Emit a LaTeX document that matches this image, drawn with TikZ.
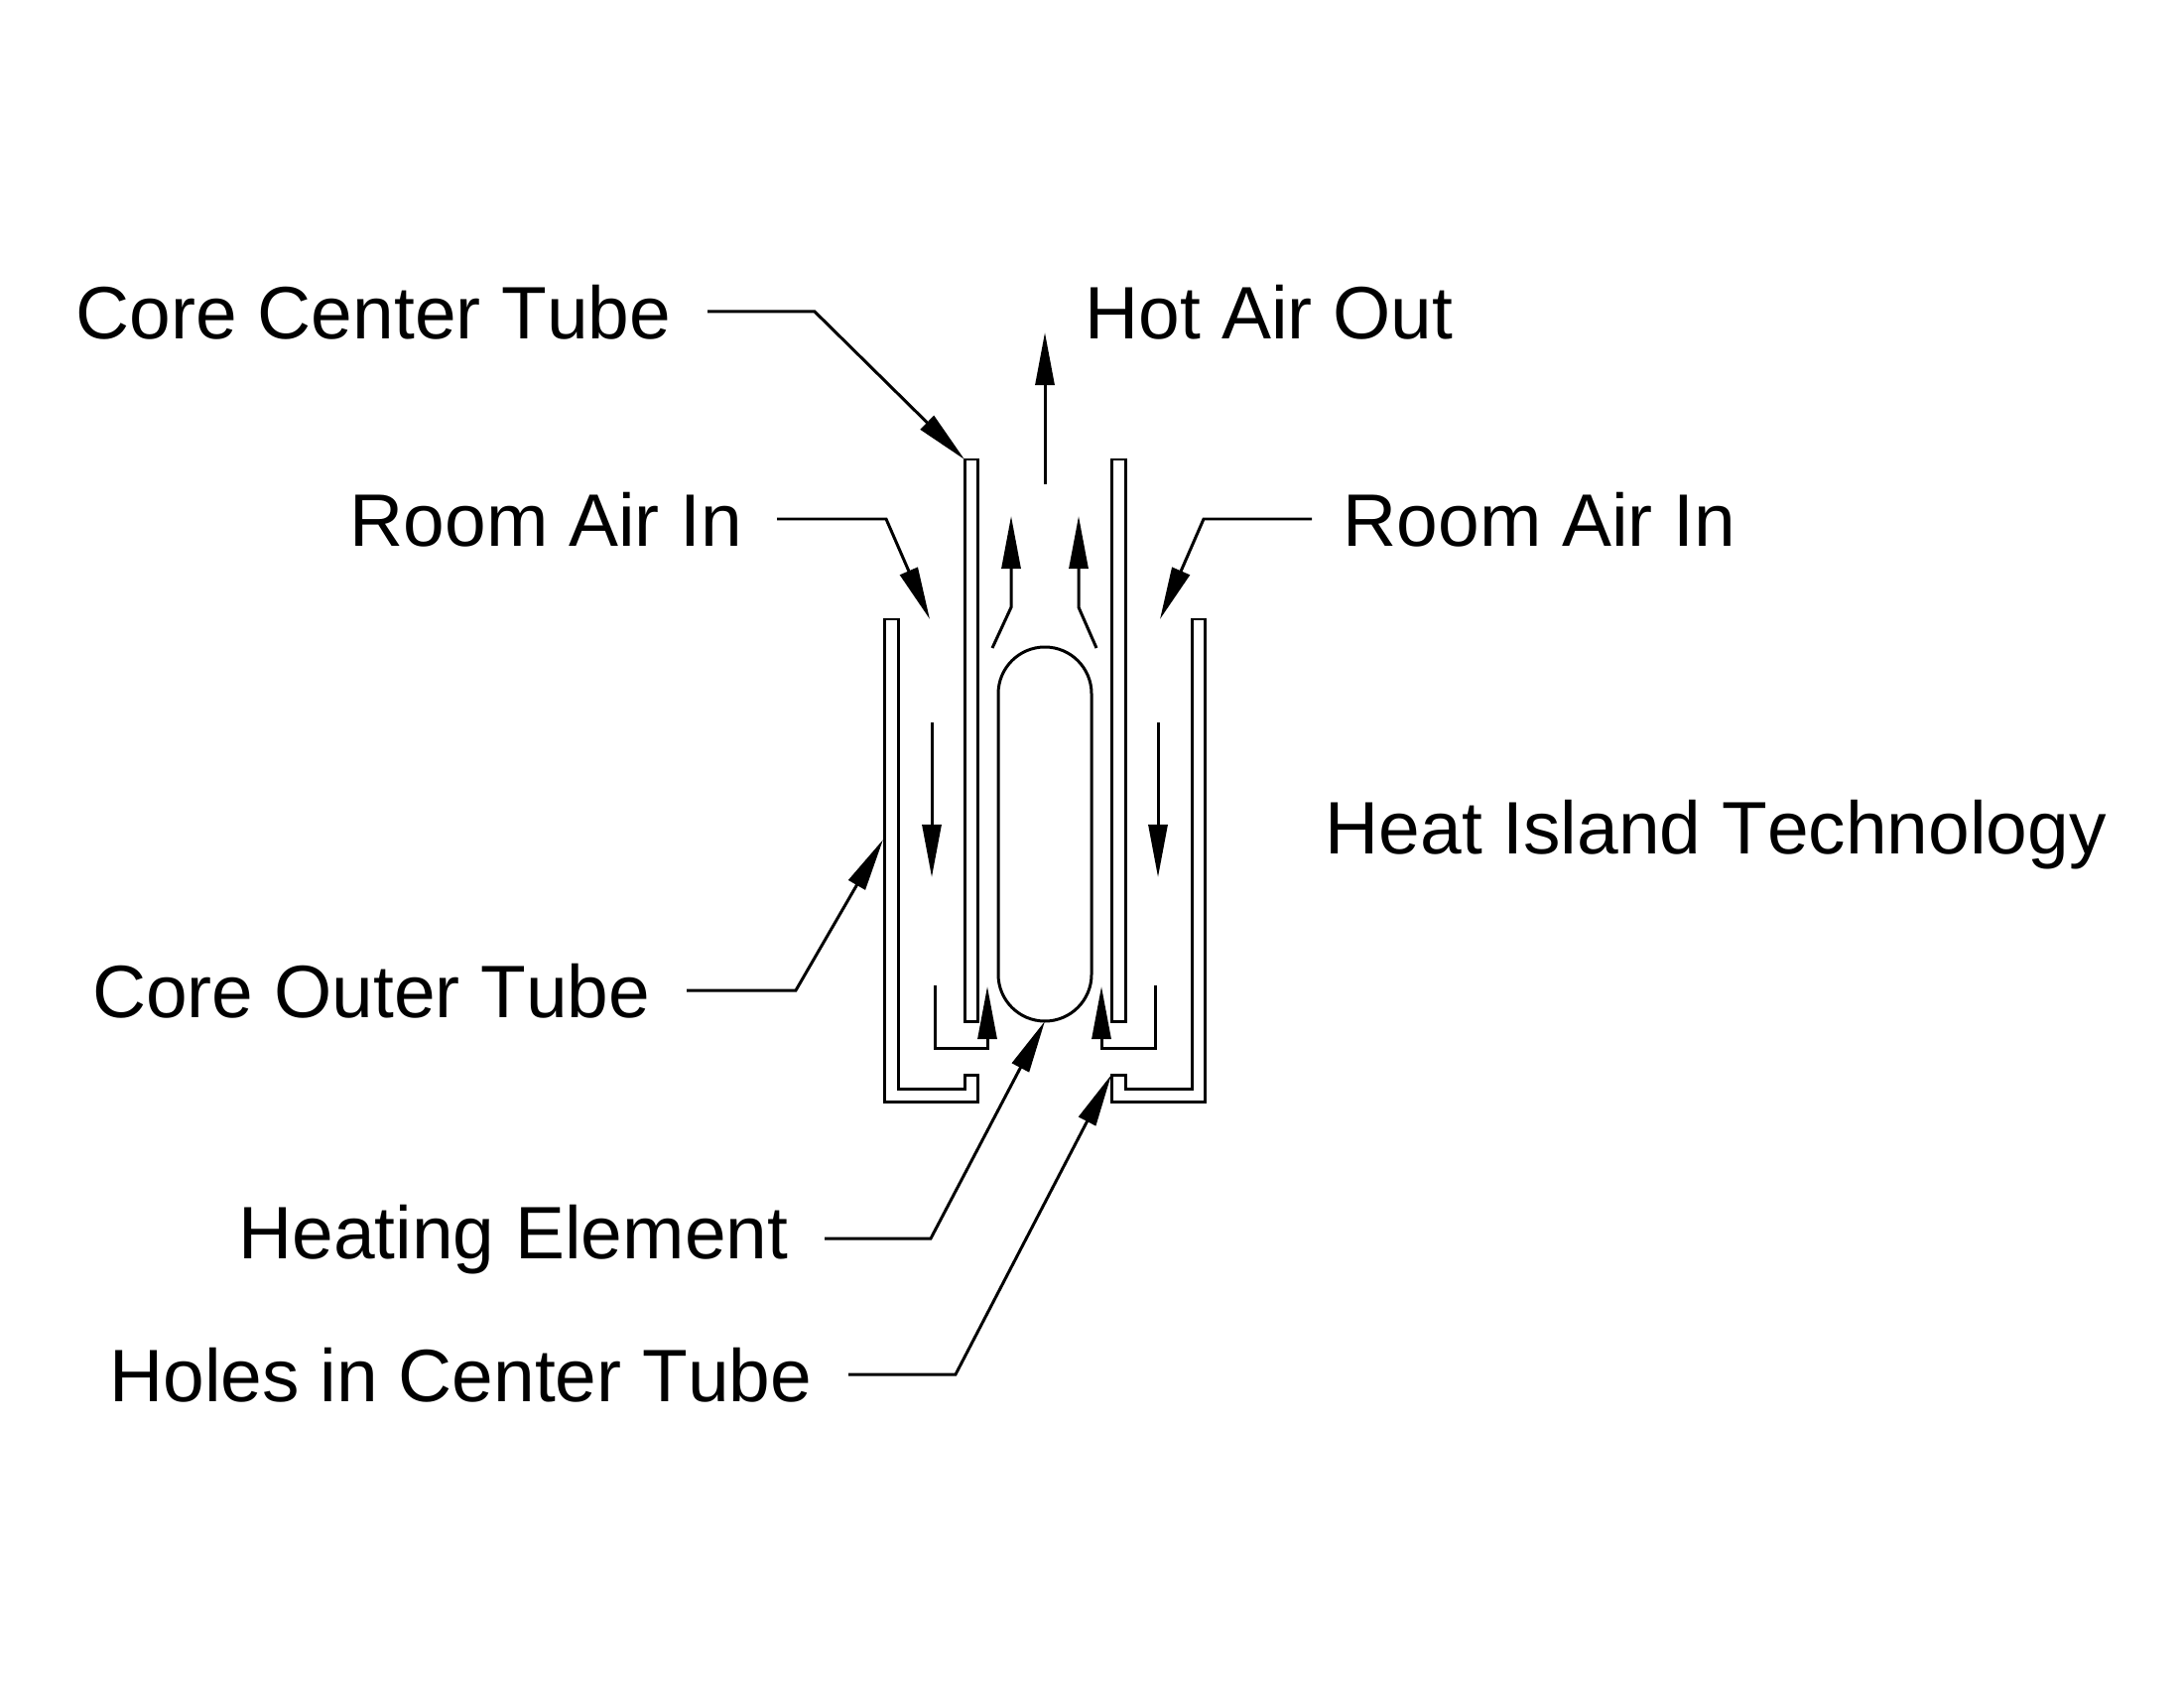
\documentclass[tikz,border=0pt]{standalone}
\usepackage{fontspec}
\setmainfont[Kerning=Off]{Liberation Sans}
\usetikzlibrary{arrows.meta,positioning,calc}
\tikzset{
  tubeline/.style={line width=0.85pt,color=black,line join=miter},
  arr/.style={->,>={Triangle[length=0.53cm,width=0.19cm]},line width=0.85pt,color=black},
  labeltext/.style={inner ysep=0pt,inner xsep=0.36cm,text height=0.54cm,text depth=0pt,font=\fontsize{21.3}{25}\selectfont}
}
\begin{document}
\begin{tikzpicture}[x=0.01cm,y=-0.01cm]
  \useasboundingbox (0,0) rectangle (2201,1701);

  % labels
  \node[labeltext,anchor=east] (centerLbl) at (713,314) {Core Center Tube};
  \node[labeltext,anchor=west] (hotLbl) at (1057,314) {Hot Air Out};
  \node[labeltext,anchor=east,inner xsep=0.34cm] (roomLbl) at (783,523) {Room Air In};
  \node[labeltext,anchor=west,inner xsep=0.31cm] (roomLblR) at (1322,523) {Room Air In};
  \node[labeltext,anchor=west] (islandLbl) at (1299,833) {Heat Island Technology};
  \node[labeltext,anchor=east] (outerLbl) at (692,998) {Core Outer Tube};
  \node[labeltext,anchor=east,text depth=0.14cm] (heatLbl) at (831,1248) {Heating Element};
  \node[labeltext,anchor=east] (holesLbl) at (855,1385) {Holes in Center Tube};

  % outer tube
  \draw[tubeline] (972,1083) -- (985,1083) -- (985,1110) -- (891,1110) -- (891,624) -- (905,624) -- (905,1097) -- (972,1097) -- cycle;
  \draw[tubeline] (1120,1083) -- (1134,1083) -- (1134,1097) -- (1201,1097) -- (1201,624) -- (1214,624) -- (1214,1110) -- (1120,1110) -- cycle;

  % center tube
  \draw[tubeline] (972,463) rectangle (985,1029);
  \draw[tubeline] (1120,463) rectangle (1134,1029);

  % heating element
  \draw[tubeline] (1006,699) arc[start angle=180,end angle=360,radius=47] -- (1100,982) arc[start angle=0,end angle=180,radius=47] -- cycle;

  % air flow
  \coordinate (hotStart) at (1053,488);
  \coordinate (hotTip) at (1053,335);
  \draw[arr] (hotStart) -- (hotTip);
  \draw[arr] (1000,653) -- (1019,612) -- (1019,520);
  \draw[arr] (1105,653) -- (1087,612) -- (1087,520);
  \draw[arr] (939,728) -- (939,884);
  \draw[arr] (1167,728) -- (1167,884);
  \draw[arr] (942,993) -- (942,1056) -- (995,1056) -- (995,994);
  \draw[arr] (1164,993) -- (1164,1056) -- (1110,1056) -- (1110,994);

  % leaders
  \draw[arr] (centerLbl.east) -- (821,314) -- (972,463);
  \draw[arr] (roomLbl.east) -- (893,523) -- (937,624);
  \draw[arr] (roomLblR.west) -- (1213,523) -- (1169,624);
  \draw[arr] (outerLbl.east) -- (802,998) -- (890,846);
  \draw[arr] (heatLbl.east) -- (938,1248) -- (1053,1029);
  \draw[arr] (holesLbl.east) -- (963,1385) -- (1120,1083);
\end{tikzpicture}
\end{document}
